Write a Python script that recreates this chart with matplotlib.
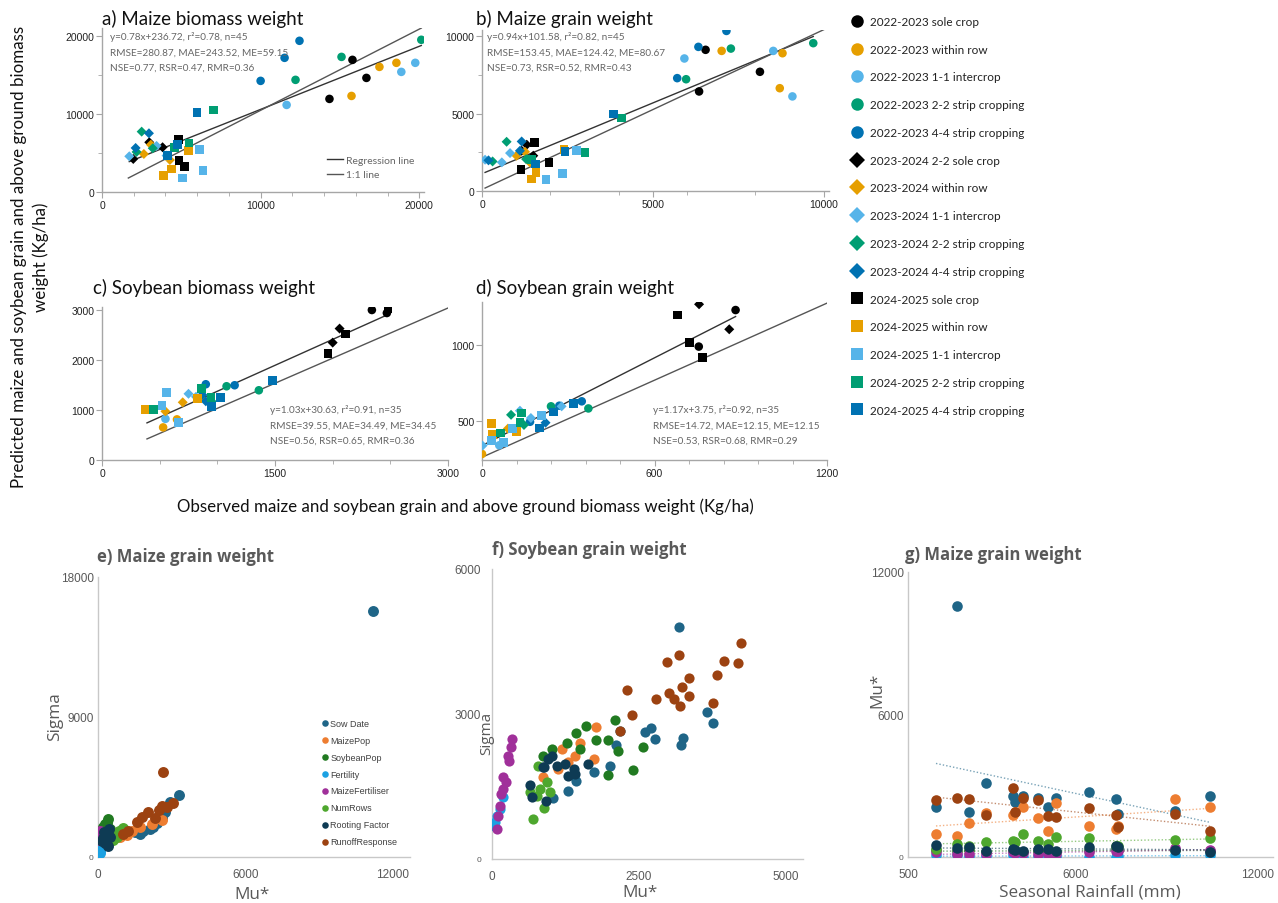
import matplotlib
matplotlib.use('Agg')
import matplotlib.pyplot as plt
from matplotlib.lines import Line2D
from matplotlib.ticker import MultipleLocator
import numpy as np

W, H = 1278, 904

# ---- top panels: treatments / seasons ----
treat_colors = ['#000000', '#E69F00', '#56B4E9', '#009E73', '#0072B2']
season_markers = ['o', 'D', 's']
legend_labels = ['2022-2023 sole crop', '2022-2023 within row', '2022-2023 1-1 intercrop',
                 '2022-2023 2-2 strip cropping', '2022-2023 4-4 strip cropping',
                 '2023-2024 2-2 sole crop', '2023-2024 within row', '2023-2024 1-1 intercrop',
                 '2023-2024 2-2 strip cropping', '2023-2024 4-4 strip cropping',
                 '2024-2025 sole crop', '2024-2025 within row', '2024-2025 1-1 intercrop',
                 '2024-2025 2-2 strip cropping', '2024-2025 4-4 strip cropping']

trt3 = [0, 0, 0, 1, 1, 1, 2, 2, 2, 3, 3, 3, 4, 4, 4]

# a) maize biomass
a_circ_x = [15790, 16670, 14340, 17490, 18560, 15730, 18870, 19750, 11640, 20130, 15100, 12200, 12450, 11510, 10000]
a_circ_y = [16920, 14610, 11920, 16020, 16540, 12300, 15380, 16540, 11150, 19490, 17300, 14360, 19360, 17180, 14230]
a_diam_x = [1970, 3820, 2980, 2640, 3080, 4280, 1720, 3440, 4070, 2500, 3200, 2180, 2120, 2960, 4700]
a_diam_y = [4230, 5730, 6370, 4870, 6060, 4100, 4570, 5900, 4660, 7730, 5600, 5130, 5640, 7520, 5940]
a_sq_x = [4800, 4860, 5220, 3900, 4380, 5430, 6160, 5070, 6370, 7040, 5490, 4590, 5990, 4740, 4110]
a_sq_y = [6710, 4020, 3290, 2090, 2950, 5300, 5430, 1790, 2730, 10510, 6280, 5730, 10130, 6070, 4660]
a_reg_x, a_reg_y = [1720, 20130], [3890, 18760]
a_one_x, a_one_y = [1660, 20130], [1790, 20990]
a_stats = ['y=0.78x+236.72, r\u00b2=0.78, n=45', 'RMSE=280.87, MAE=243.52, ME=59.15',
           'NSE=0.77, RSR=0.47, RMR=0.36']

# b) maize grain
b_circ_x = [6540, 8130, 6350, 7010, 8790, 8710, 8520, 5920, 9080, 9690, 7280, 5970, 7150, 6330, 5710]
b_circ_y = [9120, 7700, 6430, 9050, 8900, 6640, 9050, 8560, 6110, 9550, 9200, 7220, 10340, 9310, 7290]
b_diam_x = [1310, 1160, 1500, 1260, 1400, 1010, 90, 580, 820, 720, 310, 1290, 190, 1160, 1110]
b_diam_y = [2990, 2600, 2280, 2530, 1850, 2280, 2020, 1850, 2450, 3180, 1910, 2060, 1980, 3200, 2600]
b_sq_x = [1530, 1960, 1140, 1450, 1580, 2400, 1870, 2350, 2770, 4080, 3010, 1440, 3840, 2430, 1570]
b_sq_y = [3140, 1850, 1370, 770, 1210, 2660, 730, 1140, 2640, 4710, 2500, 2060, 4970, 2540, 1740]
b_reg_x, b_reg_y = [90, 9690], [1200, 9980]
b_one_x, b_one_y = [90, 10130], [190, 10560]
b_stats = ['y=0.94x+101.58, r\u00b2=0.82, n=45', 'RMSE=153.45, MAE=124.42, ME=80.67',
           'NSE=0.73, RSR=0.52, RMR=0.43']

# c) soybean biomass
c_circ_x = [2340, 2470, 530, 650, 550, 1080, 1360, 900, 1150]
c_circ_y = [2990, 2930, 650, 810, 820, 1470, 1390, 1510, 1490]
c_circ_t = [0, 0, 1, 1, 2, 3, 3, 4, 4]
c_diam_x = [2060, 2000, 700, 550, 850, 750, 815, 950, 870, 900]
c_diam_y = [2620, 2340, 1150, 970, 1240, 1320, 1260, 1170, 1300, 1170]
c_diam_t = [0, 0, 1, 1, 1, 2, 2, 3, 4, 4]
c_sq_x = [2480, 2110, 1960, 380, 830, 560, 520, 660, 445, 860, 945, 1480, 1030, 950]
c_sq_y = [3010, 2510, 2120, 1010, 1220, 1350, 1090, 750, 1000, 1420, 1250, 1590, 1250, 1070]
c_sq_t = [0, 0, 0, 1, 1, 2, 2, 2, 3, 3, 3, 4, 4, 4]
c_reg_x, c_reg_y = [390, 2480], [740, 2900]
c_one_x, c_one_y = [390, 3000], [420, 3030]
c_stats = ['y=1.03x+30.63, r\u00b2=0.91, n=35', 'RMSE=39.55, MAE=34.49, ME=34.45',
           'NSE=0.56, RSR=0.65, RMR=0.36']

# d) soybean grain
d_circ_x = [882, 754, 0, 60, 240, 370, 167, 269, 347]
d_circ_y = [1232, 991, 283, 340, 597, 583, 495, 601, 630]
d_circ_t = [0, 0, 1, 2, 3, 3, 4, 4, 4]
d_diam_x = [860, 755, 90, 2, 132, 277, 170, 101, 146, 221]
d_diam_y = [1105, 1270, 450, 338, 568, 597, 520, 541, 474, 489]
d_diam_t = [0, 0, 1, 2, 2, 2, 2, 3, 3, 4]
d_sq_x = [679, 723, 768, 34, 37, 121, 34, 74, 107, 208, 63, 138, 132, 199, 318, 250]
d_sq_y = [1199, 1018, 919, 485, 410, 432, 370, 358, 452, 535, 421, 553, 491, 454, 616, 560]
d_sq_t = [0, 0, 0, 1, 1, 1, 2, 2, 2, 2, 3, 3, 3, 4, 4, 4]
d_reg_x, d_reg_y = [0, 882], [338, 1189]
d_one_x, d_one_y = [0, 1204], [261, 1281]
d_stats = ['y=1.17x+3.75, r\u00b2=0.92, n=35', 'RMSE=14.72, MAE=12.15, ME=12.15',
           'NSE=0.53, RSR=0.68, RMR=0.29']

# ---- bottom panels: sensitivity factors ----
factors = ['Sow Date', 'MaizePop', 'SoybeanPop', 'Fertility', 'MaizeFertiliser',
           'NumRows', 'Rooting Factor', 'RunoffResponse']
factor_colors = ['#1F6587', '#ED7D31', '#217A21', '#1BA1E2', '#A0309A', '#4EA72E', '#0E3B54', '#9C4211']

# e) maize grain, sigma vs mu*
e_sow_x = [11200, 3310, 2930, 2730, 2600, 2250, 1845, 1500, 2100, 2400, 1700]
e_sow_y = [15800, 4010, 3520, 2870, 2500, 1910, 1700, 1600, 1800, 2200, 1500]
e_maize_x = [2590, 2200, 1170, 900, 1700, 2400, 1400]
e_maize_y = [2360, 2100, 1420, 1300, 1950, 2500, 1700]
e_soy_x = [420, 300, 200, 500, 350]
e_soy_y = [2440, 2100, 1900, 1800, 2200]
e_fert_x = [80, 40, 100, 60, 20]
e_fert_y = [410, 700, 250, 900, 550]
e_mfert_x = [80, 50, 120, 30]
e_mfert_y = [1700, 1300, 1500, 1100]
e_rows_x = [760, 1030, 500, 850, 600, 1150]
e_rows_y = [1260, 1880, 1500, 1650, 1100, 1700]
e_root_x = [200, 350, 450, 300, 150, 500, 400, 250]
e_root_y = [1200, 1500, 1800, 900, 1000, 1300, 700, 1600]
e_run_x = [2630, 3070, 2590, 2050, 2300, 1570, 1240, 1800, 2500, 1000, 2800]
e_run_y = [5440, 3450, 3280, 2870, 2500, 2230, 1700, 2600, 3000, 1500, 3200]

# f) soybean grain, sigma vs mu*
f_sow_x = [3190, 3660, 3770, 3260, 3220, 2770, 2610, 2710, 2180, 2120, 2010, 1730, 1430, 1300, 1040]
f_sow_y = [4790, 3050, 2810, 2500, 2360, 2480, 2630, 2720, 2650, 2360, 1930, 1790, 1620, 1410, 1270]
f_maize_x = [1770, 1500, 1190, 1730, 1300, 875, 1420, 1130]
f_maize_y = [2740, 2410, 2280, 2070, 2000, 1690, 2140, 1860]
f_soy_x = [2100, 1610, 1430, 1280, 1780, 1980, 2150, 2570, 2410, 1970, 1500, 1020, 870]
f_soy_y = [2880, 2760, 2600, 2410, 2460, 2460, 2240, 2310, 1850, 1740, 2280, 2280, 2140]
f_fert_x = [193, 136, 51, 80, 34]
f_fert_y = [1280, 1030, 760, 900, 690]
f_mfert_x = [335, 320, 295, 193, 193, 136, 108, 91, 160, 277, 236]
f_mfert_y = [2480, 2310, 2030, 1690, 1450, 1100, 900, 620, 1340, 2130, 1600]
f_rows_x = [700, 890, 790, 640, 820, 930, 990, 760]
f_rows_y = [830, 1050, 1930, 1380, 1450, 1590, 1380, 1310]
f_root_x = [960, 1100, 1240, 1390, 1300, 875, 1630, 640, 680, 920, 890, 1020, 1420]
f_root_y = [2070, 1930, 1960, 1860, 1720, 1900, 1960, 1540, 1280, 1210, 1900, 2140, 1760]
f_run_x = [4250, 4200, 3960, 3830, 3770, 3350, 3240, 3180, 2990, 3020, 3100, 3210, 3360, 2790, 2300, 2380, 2180]
f_run_y = [4460, 4050, 4100, 3810, 3230, 3740, 3550, 4220, 4080, 3430, 3310, 3170, 3380, 3310, 3500, 2970, 2650]

# g) maize grain mu* vs seasonal rainfall
g_rain = [1420, 2110, 2510, 3060, 3950, 4030, 4280, 4770, 5100, 5370, 6450, 7330, 7410, 9280, 10430]
g_sow = [2090, 10550, 1880, 3120, 2580, 2300, 2580, 2500, 2090, 2470, 2720, 2440, 1810, 1950, 2550]
g_maize = [970, 870, 1430, 1850, 1770, 1900, 2090, 1640, 1110, 2270, 1320, 1180, 1300, 2440, 2090]
g_soy = [300, 250, 280, 200, 260, 240, 220, 250, 230, 210, 300, 320, 300, 280, 250]
g_fert = [70, 70, 0, 40, 70, 50, 0, 40, 40, 0, 20, 20, 30, 70, 100]
g_mfert = [210, 130, 130, 130, 210, 180, 150, 130, 120, 110, 210, 270, 250, 370, 300]
g_rows = [340, 550, 480, 640, 690, 620, 970, 690, 550, 830, 800, 450, 480, 720, 800]
g_root = [510, 370, 410, 240, 340, 300, 270, 340, 340, 270, 410, 480, 430, 300, 220]
g_run = [2390, 2500, 2440, 1770, 2890, 1910, 2470, 2410, 1710, 1670, 2050, 1770, 1250, 1810, 1110]

plt.rcParams['font.family'] = ['Lato', 'DejaVu Sans']
fig = plt.figure(figsize=(W / 100, H / 100), dpi=100)


def add_ax(l, t, r, b):
    return fig.add_axes([l / W, 1 - b / H, (r - l) / W, (b - t) / H])


def ftext(x, y, s, **kw):
    return fig.text(x / W, 1 - y / H, s, **kw)


def style_top(ax):
    for s in ['top', 'right']:
        ax.spines[s].set_visible(False)
    for s in ['left', 'bottom']:
        ax.spines[s].set_color('#A6A6A6')
        ax.spines[s].set_linewidth(1.0)
    ax.tick_params(which='both', direction='out', color='#A6A6A6', labelsize=7.5,
                   labelcolor='#222222', labelfontfamily='Liberation Sans', pad=1.5)
    ax.tick_params(which='major', length=4)
    ax.tick_params(which='minor', length=3)


def top_points(ax, groups):
    for (xs, ys, ts), m in zip(groups, season_markers):
        cols = [treat_colors[t] for t in ts]
        sz = {'o': 38, 'D': 26, 's': 40}[m]
        ax.scatter(xs, ys, c=cols, marker=m, s=sz, linewidths=0, zorder=3)


def top_panel(box, groups, reg, one, title, title_xy, stats, stats_xy):
    ax = add_ax(*box)
    style_top(ax)
    ax.plot(reg[0], reg[1], color='#333333', lw=1.0, zorder=2)
    ax.plot(one[0], one[1], color='#555555', lw=1.0, zorder=2)
    top_points(ax, groups)
    ftext(title_xy[0], title_xy[1], title, fontsize=13.5, va='center', color='#111111')
    for i, line in enumerate(stats):
        ftext(stats_xy[0], stats_xy[1] + i * 15.8, line, fontsize=7.2, va='center', color='#666666')
    return ax


# a
ax = top_panel((102, 29, 424, 193),
               [(a_circ_x, a_circ_y, trt3), (a_diam_x, a_diam_y, trt3), (a_sq_x, a_sq_y, trt3)],
               (a_reg_x, a_reg_y), (a_one_x, a_one_y),
               'a) Maize biomass weight', (102, 19), a_stats, (110, 37))
ax.set_xlim(0, 20300)
ax.set_ylim(0, 21000)
ax.set_xticks([0, 10000, 20000])
ax.set_yticks([0, 10000, 20000])
ax.xaxis.set_minor_locator(MultipleLocator(2000))
ax.yaxis.set_minor_locator(MultipleLocator(5000))
ax.legend(handles=[Line2D([], [], color='#333333', lw=1.0), Line2D([], [], color='#555555', lw=1.0)],
          labels=['Regression line', '1:1 line'], loc='lower right', bbox_to_anchor=(1.0, 0.02),
          frameon=False, fontsize=7.5, handlelength=1.5, handletextpad=0.3, labelspacing=0.5,
          labelcolor='#666666')

# b
ax = top_panel((482, 31, 829, 192),
               [(b_circ_x, b_circ_y, trt3), (b_diam_x, b_diam_y, trt3), (b_sq_x, b_sq_y, trt3)],
               (b_reg_x, b_reg_y), (b_one_x, b_one_y),
               'b) Maize grain weight', (476, 19), b_stats, (487, 37))
ax.set_xlim(0, 10150)
ax.set_ylim(0, 10400)
ax.set_xticks([0, 5000, 10000])
ax.set_yticks([0, 5000, 10000])
ax.xaxis.set_minor_locator(MultipleLocator(2000))
ax.yaxis.set_minor_locator(MultipleLocator(2500))

# c
ax = top_panel((102, 308, 448, 461),
               [(c_circ_x, c_circ_y, c_circ_t), (c_diam_x, c_diam_y, c_diam_t), (c_sq_x, c_sq_y, c_sq_t)],
               (c_reg_x, c_reg_y), (c_one_x, c_one_y),
               'c) Soybean biomass weight', (93, 288), c_stats, (270, 410))
ax.set_xlim(0, 3000)
ax.set_ylim(0, 3050)
ax.set_xticks([0, 1500, 3000])
ax.set_yticks([0, 1000, 2000, 3000])
ax.xaxis.set_minor_locator(MultipleLocator(500))

# d
ax = top_panel((482, 303, 827, 461),
               [(d_circ_x, d_circ_y, d_circ_t), (d_diam_x, d_diam_y, d_diam_t), (d_sq_x, d_sq_y, d_sq_t)],
               (d_reg_x, d_reg_y), (d_one_x, d_one_y),
               'd) Soybean grain weight', (476, 288), d_stats, (653, 410))
ax.set_xlim(0, 1200)
ax.set_ylim(243, 1285)
ax.set_xticks([0, 600, 1200])
ax.set_yticks([500, 1000])
ax.xaxis.set_minor_locator(MultipleLocator(120))

# legend for top panels
handles = []
for i, lab in enumerate(legend_labels):
    handles.append(Line2D([], [], ls='', marker=season_markers[i // 5], color=treat_colors[i % 5],
                          markersize=9 if i // 5 != 1 else 8, markeredgewidth=0))
fig.legend(handles=handles, labels=legend_labels, loc='upper left',
           bbox_to_anchor=(845 / W, 1 - 11 / H), frameon=False, fontsize=8.5,
           labelspacing=1.42, handlelength=1.0, handletextpad=0.6, borderpad=0, labelcolor='#222222')

ftext(30, 257, 'Predicted maize and soybean grain and above ground biomass\nweight (Kg/ha)',
      rotation=90, ha='center', va='center', fontsize=12.2, linespacing=1.35, color='#111111')
ftext(465, 507, 'Observed maize and soybean grain and above ground biomass weight (Kg/ha)',
      ha='center', va='center', fontsize=12.2, color='#111111')


# ---- bottom panels ----
def style_bottom(ax, ypad=3):
    for s in ['top', 'right']:
        ax.spines[s].set_visible(False)
    for s in ['left', 'bottom']:
        ax.spines[s].set_color('#C8C8C8')
        ax.spines[s].set_linewidth(1.0)
    ax.tick_params(length=0, labelsize=8.5, labelcolor='#595959', labelfontfamily='Liberation Sans')
    ax.tick_params(axis='x', pad=8)
    ax.tick_params(axis='y', pad=ypad)


def small_zero(ax):
    ax.get_yticklabels()[0].set_fontsize(6)


e_xs = [e_sow_x, e_maize_x, e_soy_x, e_fert_x, e_mfert_x, e_rows_x, e_root_x, e_run_x]
e_ys = [e_sow_y, e_maize_y, e_soy_y, e_fert_y, e_mfert_y, e_rows_y, e_root_y, e_run_y]
f_xs = [f_sow_x, f_maize_x, f_soy_x, f_fert_x, f_mfert_x, f_rows_x, f_root_x, f_run_x]
f_ys = [f_sow_y, f_maize_y, f_soy_y, f_fert_y, f_mfert_y, f_rows_y, f_root_y, f_run_y]
g_ys = [g_sow, g_maize, g_soy, g_fert, g_mfert, g_rows, g_root, g_run]

title_kw = dict(fontsize=12, fontweight='bold', color='#595959', family=['Open Sans', 'DejaVu Sans'], va='center')
lab_kw = dict(fontsize=12.3, color='#595959', family=['Open Sans', 'DejaVu Sans'], ha='center', va='center')

# e
ax = add_ax(98, 578, 410, 858)
style_bottom(ax)
for xs, ys, col, lab in zip(e_xs, e_ys, factor_colors, factors):
    ax.scatter(xs, ys, s=62, color=col, linewidths=0, label=lab, zorder=3)
ax.set_xlim(0, 12700)
ax.set_ylim(0, 18000)
ax.set_xticks([0, 6000, 12000])
ax.set_yticks([0, 9000, 18000])
small_zero(ax)
ax.legend(loc='upper left', bbox_to_anchor=(0.70, 0.51), frameon=False,
          labelspacing=0.88, handletextpad=0.05, handlelength=1.0, borderpad=0, markerscale=0.6,
          labelcolor='#404040', prop={'family': 'Liberation Sans', 'size': 6.5})
ftext(97, 557, 'e) Maize grain weight', **title_kw)
ftext(55, 717, 'Sigma', rotation=90, **lab_kw)
ftext(252, 895, 'Mu*', **lab_kw)

# f
ax = add_ax(492, 570, 803, 860)
style_bottom(ax, ypad=8)
for xs, ys, col in zip(f_xs, f_ys, factor_colors):
    ax.scatter(xs, ys, s=54, color=col, linewidths=0, zorder=3)
ax.set_xlim(0, 5300)
ax.set_ylim(0, 6000)
ax.set_xticks([0, 2500, 5000])
ax.set_yticks([0, 3000, 6000])
small_zero(ax)
ftext(492, 550, 'f) Soybean grain weight', **title_kw)
ftext(487, 733, 'Sigma', rotation=90, **dict(lab_kw, fontsize=11))
ftext(640, 893, 'Mu*', **lab_kw)

# g
ax = add_ax(908, 573, 1273, 858)
style_bottom(ax)
for ys, col in zip(g_ys, factor_colors):
    ax.scatter(g_rain, ys, s=58, color=col, linewidths=0, zorder=3)
    k, b0 = np.polyfit(g_rain, ys, 1)
    xx = np.array([min(g_rain), max(g_rain)])
    ax.plot(xx, k * xx + b0, ls=(0, (1, 1.5)), lw=1.0, color=col, alpha=0.6, zorder=2)
ax.set_xlim(500, 12500)
ax.set_ylim(0, 12000)
ax.set_xticks([500, 6000, 12000])
ax.set_yticks([0, 6000, 12000])
small_zero(ax)
ftext(905, 555, 'g) Maize grain weight', **title_kw)
ftext(877, 690, 'Mu*', rotation=90, **lab_kw)
ftext(1090, 893, 'Seasonal Rainfall (mm)', **lab_kw)

fig.savefig('out.png', dpi=100)
